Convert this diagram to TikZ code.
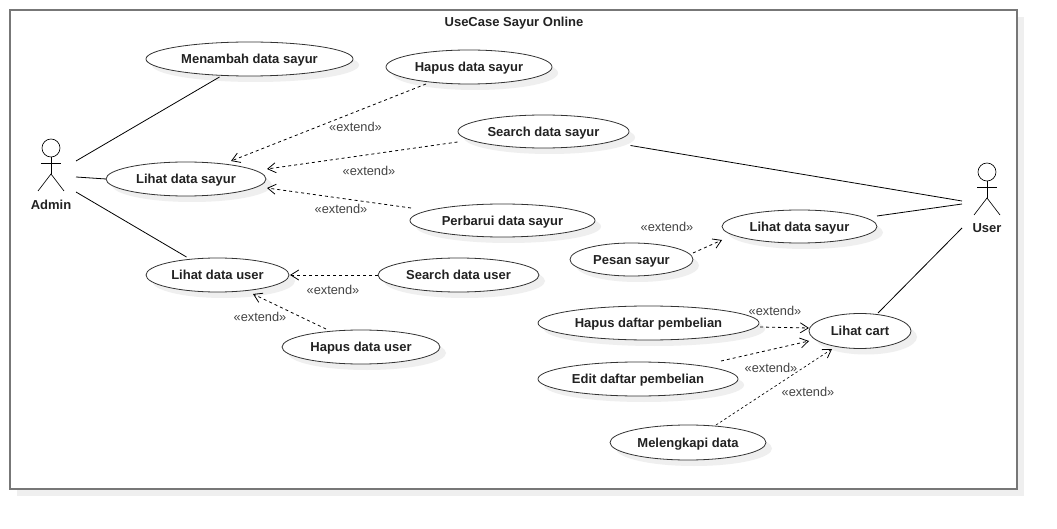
\documentclass[tikz,border=0pt]{standalone}
\usepackage{fontspec}
\setmainfont{Liberation Sans}
\usetikzlibrary{shapes.geometric,arrows.meta,shadows}
\definecolor{framegray}{HTML}{777777}
\definecolor{shadowgray}{HTML}{EFEFEF}
\definecolor{inkgray}{HTML}{222222}
\definecolor{labelgray}{HTML}{444444}
\tikzset{
  uc/.style={ellipse,draw=black!80,line width=0.8pt,fill=white,inner sep=0pt,outer sep=0pt,
    text=inkgray,font=\fontsize{13}{15}\selectfont\bfseries,text height=12.6pt,text depth=3pt,
    drop shadow={shadow xshift=6pt,shadow yshift=-6pt,fill=shadowgray,opacity=1}},
  assoc/.style={draw=black,line width=0.8pt},
  ext/.style={draw=black,line width=0.8pt,dash pattern=on 3pt off 3pt,
    -{Straight Barb[length=8pt,width=10pt,line width=0.8pt]}},
  extlabel/.style={text=labelgray,font=\fontsize{12.8}{15}\selectfont,inner sep=0pt},
  actorlabel/.style={text=inkgray,font=\fontsize{13}{15}\selectfont\bfseries,inner sep=0pt},
  actorbox/.style={minimum width=50pt,minimum height=70pt,inner sep=0pt,outer sep=0pt},
  stick/.style={draw=black,line width=0.65pt}
}
\begin{document}
\begin{tikzpicture}[x=1pt,y=-1pt]
\useasboundingbox (0,0) rectangle (1057,529);
\fill[white] (0,0) rectangle (1057,529);
% frame
\fill[shadowgray] (17,17) rectangle (1024,495.5);
\draw[framegray,line width=1.5pt,fill=white] (10,10) rectangle (1017,489);
\node[inkgray,font=\fontsize{13}{15}\selectfont\bfseries,inner sep=0pt] (title) at (514,23.5) {UseCase Sayur Online};
% actors
\node[actorbox] (admin) at (51,177) {};
\node[actorbox] (user) at (987,204) {};
\foreach \ox/\oy in {51/148,987/172}{
  \draw[stick] (\ox,\oy) circle (9);
  \draw[stick] (\ox-10,\oy+15) -- (\ox+10,\oy+15);
  \draw[stick] (\ox,\oy+9) -- (\ox,\oy+26);
  \draw[stick] (\ox-13,\oy+43) -- (\ox,\oy+26) -- (\ox+13,\oy+43);
}
\node[actorlabel] (adminlabel) at (51,204.5) {Admin};
\node[actorlabel] (userlabel) at (987,228.5) {User};
% use cases
\node[uc,minimum width=207pt,minimum height=34pt] (mds) at (249.5,59) {Menambah data sayur};
\node[uc,minimum width=166pt,minimum height=34pt] (hds) at (469,67) {Hapus data sayur};
\node[uc,minimum width=171pt,minimum height=33pt] (sds) at (543.5,131.5) {Search data sayur};
\node[uc,minimum width=160pt,minimum height=34pt] (lds) at (186,179) {Lihat data sayur};
\node[uc,minimum width=185pt,minimum height=33pt] (pds) at (502.5,220.5) {Perbarui data sayur};
\node[uc,minimum width=143pt,minimum height=34pt] (ldu) at (217.5,275) {Lihat data user};
\node[uc,minimum width=161pt,minimum height=34pt] (sdu) at (458.5,275) {Search data user};
\node[uc,minimum width=158pt,minimum height=34pt] (hdu) at (361,347) {Hapus data user};
\node[uc,minimum width=123pt,minimum height=33pt] (pes) at (631.5,259.5) {Pesan sayur};
\node[uc,minimum width=155pt,minimum height=33pt] (ldt) at (799.5,226.5) {Lihat data sayur};
\node[uc,minimum width=221pt,minimum height=34pt] (hdp) at (648.5,323) {Hapus daftar pembelian};
\node[uc,minimum width=102pt,minimum height=35pt] (crt) at (860,331) {Lihat cart};
\node[uc,minimum width=200pt,minimum height=34pt] (edp) at (638,379) {Edit daftar pembelian};
\node[uc,minimum width=156pt,minimum height=35pt] (mel) at (688,442.5) {Melengkapi data};
% associations
\draw[assoc] ([shift={(25,-16)}]admin.center) -- ([shift={(-30,18)}]mds.center);
\draw[assoc] (admin.east) -- (lds.west);
\draw[assoc] ([shift={(25,15)}]admin.center) -- ([shift={(-31,-18)}]ldu.center);
\draw[assoc] ([shift={(87,14)}]sds.center) -- ([shift={(-25,-3)}]user.center);
\draw[assoc] ([shift={(77.5,-10.5)}]ldt.center) -- ([shift={(-25,0)}]user.center);
\draw[assoc] ([shift={(18,-18)}]crt.center) -- ([shift={(-25,24)}]user.center);
% extends
\draw[ext] ([shift={(-43,17)}]hds.center) -- ([shift={(45,-18)}]lds.center);
\draw[ext] ([shift={(-86,10.5)}]sds.center) -- ([shift={(81,-10)}]lds.center);
\draw[ext] ([shift={(-91.5,-12.5)}]pds.center) -- ([shift={(81,9)}]lds.center);
\draw[ext] (sdu.west) -- ([xshift=1pt]ldu.east);
\draw[ext] ([shift={(-35,-18)}]hdu.center) -- ([shift={(35.5,19)}]ldu.center);
\draw[ext] ([shift={(61.5,-6.5)}]pes.center) -- ([shift={(-77.5,13.5)}]ldt.center);
\draw[ext] ([shift={(111.5,4)}]hdp.center) -- ([shift={(-51,-3)}]crt.center);
\draw[ext] ([shift={(83,-18)}]edp.center) -- ([shift={(-51,10)}]crt.center);
\draw[ext,line width=0.65pt,dash pattern=on 2.5pt off 2.5pt] ([shift={(28,-17.5)}]mel.center) -- ([shift={(-28,18)}]crt.center);
% labels
\node[extlabel] (e1) at (355.5,127) {«extend»};
\node[extlabel] (e2) at (369,171) {«extend»};
\node[extlabel] (e3) at (341,209) {«extend»};
\node[extlabel] (e4) at (333,290) {«extend»};
\node[extlabel] (e5) at (260,317) {«extend»};
\node[extlabel] (e6) at (667,227) {«extend»};
\node[extlabel] (e7) at (775,311) {«extend»};
\node[extlabel] (e8) at (771,368) {«extend»};
\node[extlabel] (e9) at (808,392) {«extend»};
\end{tikzpicture}
\end{document}
